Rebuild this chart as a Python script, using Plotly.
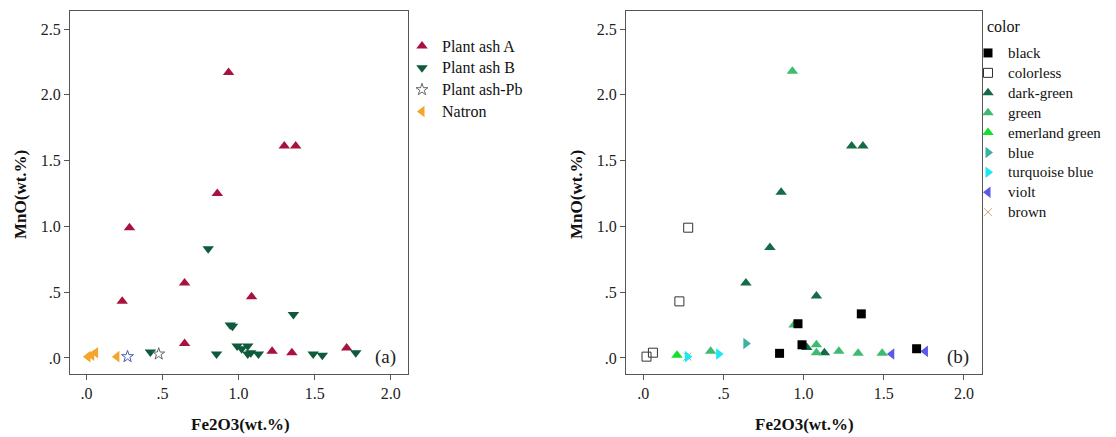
import plotly.graph_objects as go

# ---------------- data (panel a) ----------------
ashA_x = [0.934, 1.30, 1.375, 0.86, 0.283, 0.235, 0.645, 1.085, 0.645, 1.22, 1.35, 1.71]
ashA_y = [2.17, 1.61, 1.61, 1.25, 0.99, 0.43, 0.57, 0.465, 0.11, 0.05, 0.04, 0.075]

ashB_x = [0.80, 1.36, 0.945, 0.96, 0.42, 0.855, 0.99, 1.02, 1.06, 1.08, 1.13, 1.06, 1.49, 1.55, 1.77]
ashB_y = [0.83, 0.33, 0.25, 0.24, 0.045, 0.03, 0.09, 0.07, 0.09, 0.04, 0.03, 0.03, 0.03, 0.02, 0.04]

pb_x = [0.475, 0.27]
pb_y = [0.03, 0.01]
pb_colors = ["#666666", "#4a5ab8"]

natron_x = [0.01, 0.035, 0.06, 0.20]
natron_y = [0.01, 0.02, 0.04, 0.01]

# ---------------- data (panel b) ----------------
black_x = [1.36, 0.965, 0.99, 0.85, 1.705]
black_y = [0.335, 0.26, 0.10, 0.035, 0.07]

colorless_x = [0.28, 0.225, 0.02, 0.06]
colorless_y = [0.99, 0.43, 0.01, 0.04]

darkgreen_x = [1.30, 1.37, 0.86, 0.79, 0.64, 1.08, 1.02, 1.13]
darkgreen_y = [1.61, 1.61, 1.26, 0.84, 0.57, 0.47, 0.08, 0.04]

green_x = [0.93, 0.94, 0.42, 1.08, 1.08, 1.22, 1.34, 1.49]
green_y = [2.18, 0.25, 0.05, 0.10, 0.04, 0.05, 0.035, 0.035]

emerald_x = [0.21]
emerald_y = [0.02]

blue_x = [0.64]
blue_y = [0.11]

turq_x = [0.275, 0.47]
turq_y = [0.01, 0.03]

violet_x = [1.55, 1.76]
violet_y = [0.03, 0.05]

brown_x = [0.275]
brown_y = [0.01]

tick_vals_x = [0, 0.5, 1.0, 1.5, 2.0]
tick_text_x = [".0", ".5", "1.0", "1.5", "2.0"]
tick_vals_y = [0, 0.5, 1.0, 1.5, 2.0, 2.5]
tick_text_y = [".0", ".5", "1.0", "1.5", "2.0", "2.5"]

FONT = "Liberation Serif"
OFF = 8                      # default page body margin
W, H = 1116 - OFF, 437 - OFF


def px(p):                   # page x -> paper fraction
    return (p - OFF) / W


def py(p):                   # page y -> paper fraction
    return 1 - (p - OFF) / H


fig = go.Figure()


def add(x, y, name, symbol, color, size, xa, ya, legend, rank, fs, line=None):
    marker = dict(symbol=symbol, color=color, size=size)
    if line:
        marker["line"] = line
    fig.add_trace(go.Scatter(
        x=x, y=y, mode="markers",
        name=f"<span style='font-size:{fs}px'>{name}</span>", marker=marker,
        xaxis=xa, yaxis=ya, legend=legend, legendrank=rank,
    ))


# panel a
add(ashA_x, ashA_y, "Plant ash A", "triangle-up", "#a8123e", 10, "x", "y", "legend", 1, 16)
add(ashB_x, ashB_y, "Plant ash B", "triangle-down", "#0e5a3a", 10, "x", "y", "legend", 2, 16)
add(pb_x, pb_y, "Plant ash-Pb", "star-open", pb_colors, 9, "x", "y", "legend", 3, 16,
    line=dict(color=pb_colors, width=1))
add(natron_x, natron_y, "Natron", "triangle-left", "#f4a52a", 10, "x", "y", "legend", 4, 16)

# panel b
add(brown_x, brown_y, "brown", "x-thin-open", "#c4a878", 8, "x2", "y2", "legend2", 9, 15,
    line=dict(color="#c4a878", width=1))
add(colorless_x, colorless_y, "colorless", "square-open", "#333333", 9, "x2", "y2", "legend2", 2, 15,
    line=dict(color="#333333", width=1))
add(darkgreen_x, darkgreen_y, "dark-green", "triangle-up", "#156b47", 10, "x2", "y2", "legend2", 3, 15)
add(green_x, green_y, "green", "triangle-up", "#3dbb70", 10, "x2", "y2", "legend2", 4, 15)
add(emerald_x, emerald_y, "emerland green", "triangle-up", "#11e02a", 10, "x2", "y2", "legend2", 5, 15)
add(blue_x, blue_y, "blue", "triangle-right", "#3ab3a2", 10, "x2", "y2", "legend2", 6, 15)
add(turq_x, turq_y, "turquoise blue", "triangle-right", "#19e8f5", 10, "x2", "y2", "legend2", 7, 15)
add(violet_x, violet_y, "violt", "triangle-left", "#5a5ae6", 10, "x2", "y2", "legend2", 8, 15)
add(black_x, black_y, "black", "square", "#000000", 9, "x2", "y2", "legend2", 1, 15)

xr = [-0.108, 2.113]
yr = [-0.122, 2.637]


def xaxis(domain, anchor):
    return dict(domain=domain, anchor=anchor, range=xr, tickvals=tick_vals_x, ticktext=tick_text_x,
                showgrid=False, zeroline=False, showline=True, mirror=True, linecolor="#555555",
                linewidth=1, ticks="outside", ticklen=5, tickcolor="#555555",
                tickfont=dict(family=FONT, size=16, color="#222222"))


def yaxis(domain, anchor):
    return dict(domain=domain, anchor=anchor, range=yr, tickvals=tick_vals_y, ticktext=tick_text_y,
                showgrid=False, zeroline=False, showline=True, mirror=True, linecolor="#555555",
                linewidth=1, ticks="outside", ticklen=5, tickcolor="#555555",
                tickfont=dict(family=FONT, size=16, color="#222222"))


ydom = [py(374), py(11)]
xdom1 = [px(70), px(408)]
xdom2 = [px(626), px(982)]

TF = dict(family=FONT, size=17, color="#111111")
annotations = [
    dict(text="<b>MnO(wt.%)</b>", x=px(20), y=py(195), textangle=-90, font=TF),
    dict(text="<b>MnO(wt.%)</b>", x=px(576), y=py(195), textangle=-90, font=TF),
    dict(text="<b>Fe2O3(wt.%)</b>", x=px(240), y=py(424), font=TF),
    dict(text="<b>Fe2O3(wt.%)</b>", x=px(804), y=py(424), font=TF),
    dict(text="(a)", x=px(385), y=py(357), font=dict(family=FONT, size=19, color="#222222")),
    dict(text="(b)", x=px(958), y=py(357), font=dict(family=FONT, size=19, color="#222222")),
    dict(text="color", x=px(985), y=py(27), xanchor="left",
         font=dict(family=FONT, size=16, color="#111111")),
]
for a in annotations:
    a.update(xref="paper", yref="paper", showarrow=False, yanchor="middle")
    a.setdefault("xanchor", "center")

fig.update_layout(
    width=W, height=H,
    margin=dict(l=0, r=0, t=0, b=0),
    paper_bgcolor="white", plot_bgcolor="white",
    xaxis=xaxis(xdom1, "y"), yaxis=yaxis(ydom, "x"),
    xaxis2=xaxis(xdom2, "y2"), yaxis2=yaxis(ydom, "x2"),
    annotations=annotations,
    legend=dict(x=px(402), y=py(30), xanchor="left", yanchor="top",
                bgcolor="rgba(0,0,0,0)", itemwidth=30, itemsizing="trace",
                font=dict(family=FONT, size=14.5, color="#111111")),
    legend2=dict(x=px(968), y=py(38), xanchor="left", yanchor="top",
                 bgcolor="rgba(0,0,0,0)", itemwidth=30, itemsizing="trace",
                 font=dict(family=FONT, size=13, color="#111111")),
)

fig.write_html("out.html")
